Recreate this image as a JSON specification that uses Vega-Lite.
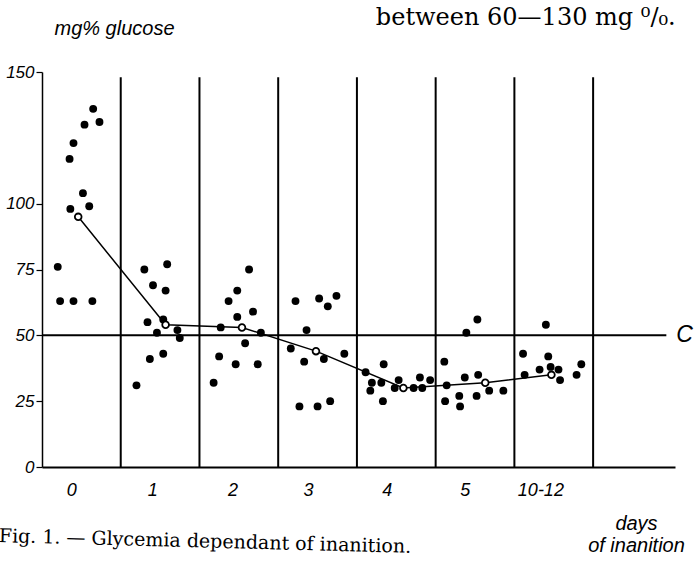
{
  "$schema": "https://vega.github.io/schema/vega-lite/v6.json",
  "width": 633,
  "height": 395,
  "autosize": "none",
  "padding": {"left": 42, "top": 72, "right": 25, "bottom": 97},
  "background": "white",
  "config": {
    "view": {"stroke": null},
    "font": "Liberation Sans",
    "axis": {
      "grid": false,
      "domainColor": "black",
      "labelFont": "Liberation Sans", "labelFontStyle": "italic", "labelColor": "black",
      "titleFont": "Liberation Sans", "titleFontStyle": "italic", "titleFontWeight": "normal", "titleColor": "black"
    },
    "axisX": {
      "ticks": false, "domainWidth": 2, "labelFontSize": 18, "labelPadding": 14,
      "titleFontSize": 20, "titleAlign": "center", "titleBaseline": "alphabetic",
      "titleX": 594, "titleY": 62, "titleLineHeight": 22
    },
    "axisY": {
      "domainWidth": 1.5, "tickColor": "black", "tickSize": 6, "tickWidth": 1.2,
      "labelFontSize": 17, "labelPadding": 2,
      "titleFontSize": 20, "titleAngle": 0, "titleAlign": "left", "titleBaseline": "alphabetic",
      "titleX": 12, "titleY": -38
    }
  },
  "datasets": {
    "obs": [
      {"day": 0.65, "glucose": 136}, {"day": 0.73, "glucose": 131}, {"day": 0.54, "glucose": 130},
      {"day": 0.40, "glucose": 123}, {"day": 0.35, "glucose": 117}, {"day": 0.52, "glucose": 104},
      {"day": 0.36, "glucose": 98}, {"day": 0.60, "glucose": 99}, {"day": 0.20, "glucose": 76},
      {"day": 0.23, "glucose": 63}, {"day": 0.40, "glucose": 63}, {"day": 0.64, "glucose": 63},
      {"day": 1.30, "glucose": 75}, {"day": 1.59, "glucose": 77}, {"day": 1.41, "glucose": 69},
      {"day": 1.57, "glucose": 67}, {"day": 1.54, "glucose": 56}, {"day": 1.34, "glucose": 55},
      {"day": 1.46, "glucose": 51}, {"day": 1.72, "glucose": 52}, {"day": 1.75, "glucose": 49},
      {"day": 1.37, "glucose": 41}, {"day": 1.54, "glucose": 43}, {"day": 1.20, "glucose": 31},
      {"day": 2.63, "glucose": 75}, {"day": 2.48, "glucose": 67}, {"day": 2.37, "glucose": 63},
      {"day": 2.68, "glucose": 59}, {"day": 2.48, "glucose": 57}, {"day": 2.27, "glucose": 53},
      {"day": 2.78, "glucose": 51}, {"day": 2.58, "glucose": 47}, {"day": 2.25, "glucose": 42},
      {"day": 2.46, "glucose": 39}, {"day": 2.74, "glucose": 39}, {"day": 2.18, "glucose": 32},
      {"day": 3.22, "glucose": 63}, {"day": 3.52, "glucose": 64}, {"day": 3.63, "glucose": 61},
      {"day": 3.74, "glucose": 65}, {"day": 3.36, "glucose": 52}, {"day": 3.16, "glucose": 45},
      {"day": 3.33, "glucose": 40}, {"day": 3.58, "glucose": 41}, {"day": 3.84, "glucose": 43},
      {"day": 3.27, "glucose": 23}, {"day": 3.50, "glucose": 23}, {"day": 3.66, "glucose": 25},
      {"day": 4.11, "glucose": 36}, {"day": 4.19, "glucose": 32}, {"day": 4.31, "glucose": 32},
      {"day": 4.34, "glucose": 39}, {"day": 4.17, "glucose": 29}, {"day": 4.33, "glucose": 25},
      {"day": 4.53, "glucose": 33}, {"day": 4.48, "glucose": 30}, {"day": 4.72, "glucose": 30},
      {"day": 4.80, "glucose": 34}, {"day": 4.83, "glucose": 30}, {"day": 4.93, "glucose": 33},
      {"day": 5.11, "glucose": 40}, {"day": 5.12, "glucose": 25}, {"day": 5.14, "glucose": 31},
      {"day": 5.30, "glucose": 27}, {"day": 5.31, "glucose": 23}, {"day": 5.37, "glucose": 34},
      {"day": 5.39, "glucose": 51}, {"day": 5.53, "glucose": 56}, {"day": 5.54, "glucose": 35},
      {"day": 5.52, "glucose": 27}, {"day": 5.68, "glucose": 29}, {"day": 5.86, "glucose": 29},
      {"day": 6.11, "glucose": 43}, {"day": 6.13, "glucose": 35}, {"day": 6.32, "glucose": 37},
      {"day": 6.40, "glucose": 54}, {"day": 6.43, "glucose": 42}, {"day": 6.46, "glucose": 38},
      {"day": 6.56, "glucose": 37}, {"day": 6.58, "glucose": 33}, {"day": 6.79, "glucose": 35},
      {"day": 6.85, "glucose": 39}
    ],
    "means": [
      {"day": 0.46, "glucose": 95}, {"day": 1.57, "glucose": 54}, {"day": 2.54, "glucose": 53},
      {"day": 3.48, "glucose": 44}, {"day": 4.59, "glucose": 30}, {"day": 5.63, "glucose": 32},
      {"day": 6.47, "glucose": 35}
    ],
    "dividers": [
      {"day": 1}, {"day": 2}, {"day": 3}, {"day": 4},
      {"day": 5}, {"day": 6}, {"day": 7}
    ],
    "notes": [
      {"heading": "between 60—130 mg ⁰/₀.", "caption": "Fig. 1. — Glycemia dependant of inanition."}
    ],
    "refline": [{"name": "C", "glucose": 50}]
  },
  "layer": [
    {
      "data": {"name": "obs"},
      "mark": {"type": "circle", "color": "black", "opacity": 1, "size": 62},
      "encoding": {
        "x": {
          "field": "day", "type": "quantitative",
          "scale": {"domain": [0, 8.04], "nice": false, "zero": false},
          "axis": {
            "values": [0.37, 1.4, 2.42, 3.38, 4.38, 5.37, 6.33],
            "labelExpr": "datum.value > 6 ? '10-12' : format(floor(datum.value), 'd')"
          },
          "title": ["days", "of inanition"]
        },
        "y": {
          "field": "glucose", "type": "quantitative",
          "scale": {"domain": [0, 150], "nice": false},
          "axis": {"values": [0, 25, 50, 75, 100, 150]},
          "title": "mg% glucose"
        }
      }
    },
    {
      "data": {"name": "dividers"},
      "mark": {"type": "rule", "color": "black", "strokeWidth": 2},
      "encoding": {
        "x": {"field": "day", "type": "quantitative"},
        "y": {"datum": 0, "type": "quantitative"},
        "y2": {"datum": 148}
      }
    },
    {
      "data": {"name": "refline"},
      "mark": {"type": "rule", "color": "black", "strokeWidth": 2},
      "encoding": {
        "x": {"datum": 0, "type": "quantitative"},
        "x2": {"datum": 7.93},
        "y": {"field": "glucose", "type": "quantitative"}
      }
    },
    {
      "data": {"name": "refline"},
      "mark": {"type": "text", "align": "left", "baseline": "middle", "dx": 10, "font": "Liberation Sans", "fontStyle": "italic", "fontSize": 23, "color": "black"},
      "encoding": {
        "x": {"datum": 7.93, "type": "quantitative"},
        "y": {"field": "glucose", "type": "quantitative"},
        "text": {"field": "name"}
      }
    },
    {
      "data": {"name": "means"},
      "mark": {"type": "line", "color": "black", "strokeWidth": 1.5},
      "encoding": {
        "x": {"field": "day", "type": "quantitative"},
        "y": {"field": "glucose", "type": "quantitative"}
      }
    },
    {
      "data": {"name": "means"},
      "mark": {"type": "point", "shape": "circle", "filled": true, "fill": "white", "stroke": "black", "strokeWidth": 1.8, "size": 45, "opacity": 1},
      "encoding": {
        "x": {"field": "day", "type": "quantitative"},
        "y": {"field": "glucose", "type": "quantitative"}
      }
    },
    {
      "data": {"name": "notes"},
      "mark": {"type": "text", "align": "left", "baseline": "alphabetic", "font": "DejaVu Serif", "fontSize": 24, "color": "black"},
      "encoding": {
        "x": {"datum": 4.24, "type": "quantitative"},
        "y": {"datum": 168, "type": "quantitative"},
        "text": {"field": "heading"}
      }
    },
    {
      "data": {"name": "notes"},
      "mark": {"type": "text", "align": "left", "baseline": "alphabetic", "angle": 1.5, "font": "DejaVu Serif", "fontSize": 19, "color": "black"},
      "encoding": {
        "x": {"datum": -0.55, "type": "quantitative"},
        "y": {"datum": -28.5, "type": "quantitative"},
        "text": {"field": "caption"}
      }
    }
  ]
}
